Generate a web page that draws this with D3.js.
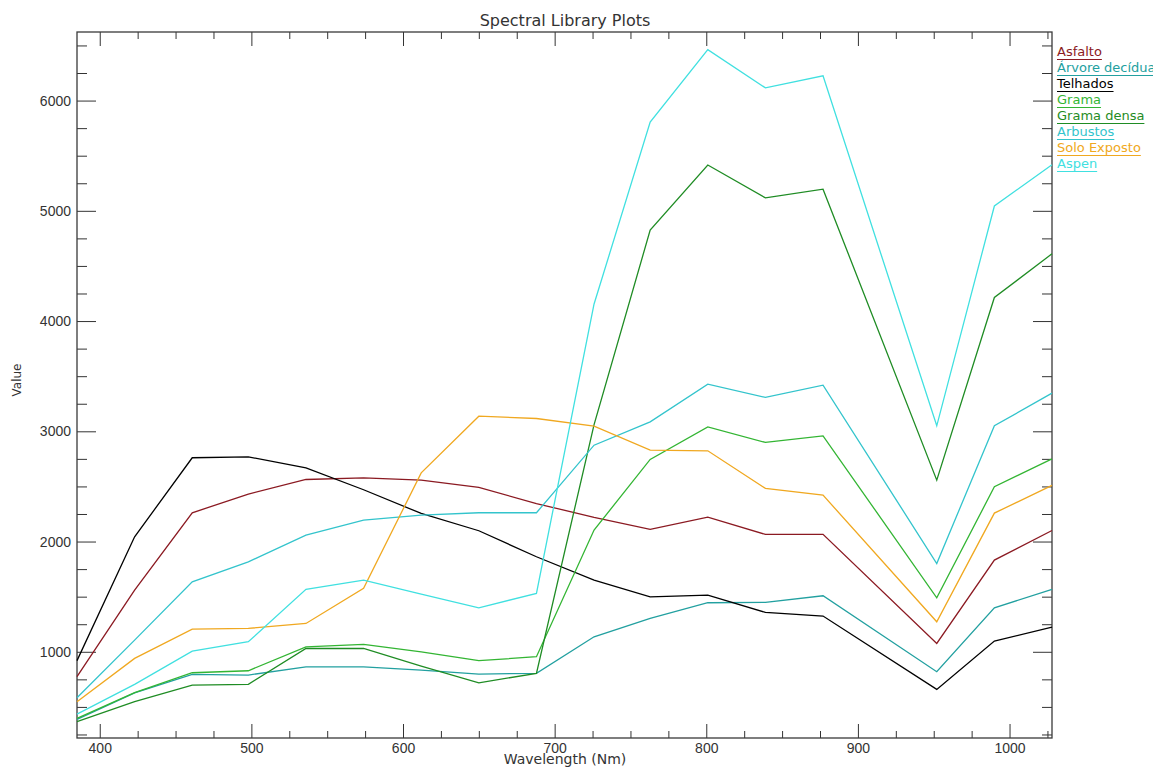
<!DOCTYPE html>
<html>
<head>
<meta charset="utf-8">
<script src="https://cdnjs.cloudflare.com/ajax/libs/d3/7.8.5/d3.min.js"></script>
<style>
    body { margin: 0; background: #fff; }
    svg { display: block; font-family: "DejaVu Sans", sans-serif; }
    .axis text { fill: #333; font-size: 14px; }
    .axis line { stroke: #333; stroke-width: 1; }
    .axis path { display: none; }
</style>
</head>
<body>
<svg width="1153" height="767"></svg>
<script>
// band centres (nm), band ~914 missing in the library
var wavelengths = [385, 423, 461, 498, 536, 574, 612, 650, 688, 726, 763, 801, 839, 877, 952, 990, 1028];

var asfalto     = [774, 1560, 2261, 2430, 2563, 2578, 2557, 2491, 2345, 2219, 2110, 2222, 2065, 2065, 1076, 1832, 2100];
var arvore      = [387, 628, 795, 789, 864, 864, 834, 798, 804, 1136, 1303, 1445, 1448, 1508, 819, 1399, 1566];
var telhados    = [920, 2043, 2760, 2768, 2669, 2470, 2255, 2098, 1862, 1650, 1499, 1514, 1357, 1324, 659, 1097, 1224];
var grama       = [396, 630, 810, 828, 1045, 1068, 1000, 919, 955, 2104, 2745, 3040, 2899, 2959, 1490, 2497, 2750];
var gramaDensa  = [366, 547, 698, 705, 1030, 1031, 870, 719, 804, 3060, 4825, 5416, 5117, 5196, 2557, 4214, 4610];
var arbustos    = [583, 1106, 1635, 1816, 2058, 2194, 2240, 2261, 2261, 2874, 3086, 3428, 3307, 3419, 1801, 3050, 3346];
var soloExposto = [547, 940, 1206, 1212, 1257, 1575, 2623, 3137, 3116, 3047, 2829, 2823, 2482, 2421, 1272, 2258, 2510];
var aspen       = [435, 705, 1006, 1091, 1566, 1650, 1523, 1399, 1530, 4155, 5804, 6462, 6115, 6224, 3050, 5044, 5418];

var seriesNames  = ["Asfalto", "Árvore decídua", "Telhados", "Grama", "Grama densa", "Arbustos", "Solo Exposto", "Aspen"];
var seriesValues = [asfalto, arvore, telhados, grama, gramaDensa, arbustos, soloExposto, aspen];
var seriesColors = ["#8b1a22", "#22a0a0", "#000000", "#33b533", "#1f8c24", "#33c4cc", "#f0a820", "#40e0e0"];

var xTicks = [400, 500, 600, 700, 800, 900, 1000];
var yTicks = [1000, 2000, 3000, 4000, 5000, 6000];

var svg = d3.select("svg"),
    margin = { top: 32, right: 101, bottom: 29, left: 77 },
    width = +svg.attr("width") - margin.left - margin.right,
    height = +svg.attr("height") - margin.top - margin.bottom;

var x = d3.scaleLinear()
    .domain([385, 1028])
    .range([0, width]);

var y = d3.scaleLinear()
    .domain([218, 6622])
    .range([height, 0]);

var g = svg.append("g")
    .attr("transform", "translate(" + margin.left + "," + margin.top + ")");

// minor tick values
var xMinor = d3.range(400, 1028, 25).filter(function(d) { return d % 100 != 0; });
var yMinor = d3.range(250, 6622, 250).filter(function(d) { return d % 1000 != 0; });

// bottom axis, ticks point inwards
g.append("g")
    .attr("class", "axis")
    .attr("transform", "translate(0," + height + ")")
    .call(d3.axisBottom(x).tickValues(xTicks).tickSize(-14).tickPadding(5).tickFormat(d3.format("d")));
g.append("g")
    .attr("class", "axis")
    .attr("transform", "translate(0," + height + ")")
    .call(d3.axisBottom(x).tickValues(xMinor).tickSize(-7).tickFormat(""));

// top axis
g.append("g")
    .attr("class", "axis")
    .call(d3.axisTop(x).tickValues(xTicks).tickSize(-14).tickFormat(""));
g.append("g")
    .attr("class", "axis")
    .call(d3.axisTop(x).tickValues(xMinor).tickSize(-7).tickFormat(""));

// left axis
g.append("g")
    .attr("class", "axis")
    .call(d3.axisLeft(y).tickValues(yTicks).tickSize(-19).tickPadding(6).tickFormat(d3.format("d")));
g.append("g")
    .attr("class", "axis")
    .call(d3.axisLeft(y).tickValues(yMinor).tickSize(-10).tickFormat(""));

// right axis
g.append("g")
    .attr("class", "axis")
    .attr("transform", "translate(" + width + ",0)")
    .call(d3.axisRight(y).tickValues(yTicks).tickSize(-19).tickFormat(""));
g.append("g")
    .attr("class", "axis")
    .attr("transform", "translate(" + width + ",0)")
    .call(d3.axisRight(y).tickValues(yMinor).tickSize(-10).tickFormat(""));

// frame
g.append("rect")
    .attr("width", width)
    .attr("height", height)
    .attr("fill", "none")
    .attr("stroke", "#3a3a3a")
    .attr("stroke-width", 1.3);

var line = d3.line()
    .x(function(d, i) { return x(wavelengths[i]); })
    .y(function(d) { return y(d); });

g.append("g")
    .selectAll("path")
    .data(seriesValues)
    .enter().append("path")
    .attr("d", line)
    .attr("fill", "none")
    .attr("stroke", function(d, i) { return seriesColors[i]; })
    .attr("stroke-width", 1.3);

// title and axis labels
svg.append("text")
    .attr("x", margin.left + width / 2 + 0.5)
    .attr("y", 26)
    .attr("text-anchor", "middle")
    .attr("fill", "#333")
    .style("font-size", "16px")
    .text("Spectral Library Plots");

svg.append("text")
    .attr("x", margin.left + width / 2 + 0.5)
    .attr("y", 764)
    .attr("text-anchor", "middle")
    .attr("fill", "#333")
    .style("font-size", "14px")
    .text("Wavelength (Nm)");

svg.append("text")
    .attr("transform", "translate(21," + 380 + ") rotate(-90)")
    .attr("text-anchor", "middle")
    .attr("fill", "#333")
    .style("font-size", "12px")
    .text("Value");

// legend with underlined names
var legend = svg.append("g")
    .selectAll("g")
    .data(seriesNames)
    .enter().append("g")
    .attr("transform", function(d, i) { return "translate(1057," + (56 + i * 16) + ")"; });

legend.append("text")
    .attr("fill", function(d, i) { return seriesColors[i]; })
    .style("font-size", "13px")
    .text(function(d) { return d; });

legend.append("line")
    .attr("x1", 0)
    .attr("y1", 3.5)
    .attr("y2", 3.5)
    .attr("x2", function() { return this.parentNode.querySelector("text").getComputedTextLength(); })
    .attr("stroke", function(d, i) { return seriesColors[i]; })
    .attr("stroke-width", 1.2);
</script>
</body>
</html>
